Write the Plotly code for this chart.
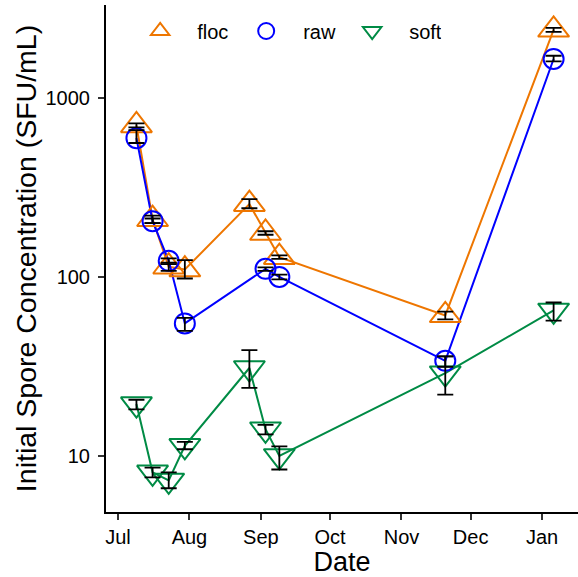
import plotly.graph_objects as go

# ---- data ----
dates = ["2023-07-09", "2023-07-16", "2023-07-23", "2023-07-30", "2023-08-27",
         "2023-09-03", "2023-09-09", "2023-11-20", "2024-01-06"]

floc_mean = [702, 210, 114, 110, 255, 176, 129, 61, 2400]
floc_hi   = [720, 220, 120, 124, 272, 180, 132, 64, 2460]
floc_lo   = [685, 200, 108, 98, 242, 172, 126, 58, 2340]

raw_dates = ["2023-07-09", "2023-07-16", "2023-07-23", "2023-07-30",
             "2023-09-03", "2023-09-09", "2023-11-20", "2024-01-06"]
raw_mean = [596, 205, 123, 55, 111, 100, 34, 1650]
raw_hi   = [660, 212, 127, 59, 113, 103, 36, 1720]
raw_lo   = [560, 200, 118, 50, 108, 97, 31.5, 1600]

soft_mean = [19.5, 8.1, 7.3, 11.4, 31, 14.1, 10, 29, 65]
soft_hi   = [20.6, 8.6, 8.1, 12.0, 39, 14.9, 11.3, 36, 72]
soft_lo   = [18.2, 7.6, 6.6, 10.9, 24, 13.2, 8.4, 22, 57]

x_tick_vals = ["2023-07-01", "2023-08-01", "2023-09-01", "2023-10-01",
               "2023-11-01", "2023-12-01", "2024-01-01"]
x_tick_text = ["Jul", "Aug", "Sep", "Oct", "Nov", "Dec", "Jan"]
y_tick_vals = [10, 100, 1000]
y_tick_text = ["10", "100", "1000"]

series = [
    ("floc", dates, floc_mean, floc_hi, floc_lo, "#EE7600", "triangle-up-open", 27),
    ("raw", raw_dates, raw_mean, raw_hi, raw_lo, "#0000FF", "circle-open", 20),
    ("soft", dates, soft_mean, soft_hi, soft_lo, "#008B45", "triangle-down-open", 27),
]

FONT = "Liberation Sans, Arial, sans-serif"
fig = go.Figure()

# lines first
for name, xs, m, hi, lo, col, sym, sz in series:
    fig.add_trace(go.Scatter(x=xs, y=m, mode="lines", line=dict(color=col, width=2),
                             showlegend=False, hoverinfo="skip"))
# markers
for name, xs, m, hi, lo, col, sym, sz in series:
    fig.add_trace(go.Scatter(x=xs, y=m, mode="markers", name=name,
                             marker=dict(symbol=sym, size=sz, color=col,
                                         line=dict(color=col, width=2))))
# error bars on top
for name, xs, m, hi, lo, col, sym, sz in series:
    fig.add_trace(go.Scatter(
        x=xs, y=m, mode="markers", marker=dict(opacity=0, size=1),
        showlegend=False, hoverinfo="skip",
        error_y=dict(type="data", symmetric=False,
                     array=[h - v for h, v in zip(hi, m)],
                     arrayminus=[v - l for l, v in zip(lo, m)],
                     color="black", thickness=1.8, width=8)))

fig.update_layout(
    width=578, height=577,
    margin=dict(l=106, r=0, t=5, b=65),
    paper_bgcolor="white", plot_bgcolor="white",
    font=dict(family=FONT, size=20, color="black"),
    legend=dict(orientation="h", x=0.0364, xanchor="left", y=0.9487, yanchor="middle",
                itemwidth=64, entrywidth=27, entrywidthmode="pixels",
                font=dict(size=20), bgcolor="rgba(0,0,0,0)",
                traceorder="normal"),
    xaxis=dict(type="date", range=["2023-06-25 19:00", "2024-01-16 14:00"],
               tickvals=x_tick_vals, ticktext=x_tick_text,
               showline=True, linecolor="black", linewidth=2,
               ticks="outside", ticklen=6, tickwidth=2, tickcolor="#333333",
               showgrid=False, zeroline=False,
               tickfont=dict(size=20, color="black"),
               title=dict(text="Date", font=dict(size=27), standoff=5)),
    yaxis=dict(type="log", range=[0.687, 3.519],
               tickvals=y_tick_vals, ticktext=y_tick_text,
               showline=True, linecolor="black", linewidth=2,
               ticks="outside", ticklen=6, tickwidth=2, tickcolor="#333333",
               ticklabelstandoff=4,
               showgrid=False, zeroline=False,
               tickfont=dict(size=20, color="black"),
               title=dict(text="Initial Spore Concentration (SFU/mL)", font=dict(size=28.5),
                          standoff=1)),
)

fig.write_html("out.html")
